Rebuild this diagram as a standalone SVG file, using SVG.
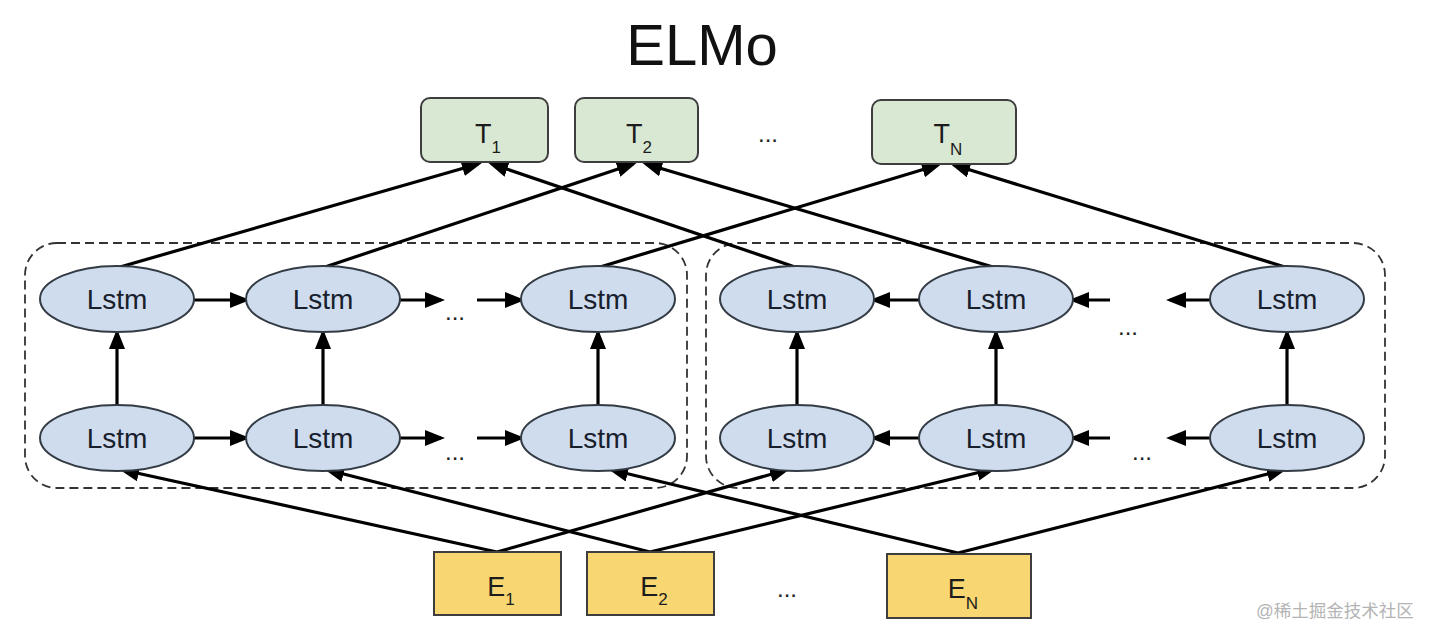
<svg xmlns="http://www.w3.org/2000/svg" width="1434" height="642" viewBox="0 0 1434 642">
  <defs>
    <marker id="arr" markerUnits="userSpaceOnUse" markerWidth="22" markerHeight="18" refX="16" refY="8" orient="auto">
      <path d="M0,0 L20,8 L0,16 z" fill="#000"/>
    </marker>
    <style>
      .title { font-family: "Liberation Sans", Arial, sans-serif; font-size: 58px; fill: #111; text-anchor: middle; }
      .tbox { fill: #d9e8d3; stroke: #3e3e3e; stroke-width: 2; }
      .ebox { fill: #f8d672; stroke: #3e3e3e; stroke-width: 2; }
      .lstm { fill: #cfdcee; stroke: #333b44; stroke-width: 2; }
      .group { fill: none; stroke: #333; stroke-width: 1.8; stroke-dasharray: 9 5; }
      .lt { font-family: "Liberation Sans", Arial, sans-serif; font-size: 28px; fill: #18202c; text-anchor: middle; }
      .lbl { font-family: "Liberation Sans", Arial, sans-serif; font-size: 27px; fill: #1c1c1c; text-anchor: middle; }
      .sub { font-size: 17px; }
      .dots { font-family: "Liberation Sans", Arial, sans-serif; font-size: 24px; fill: #222; text-anchor: middle; }
      .conn line { stroke: #000; stroke-width: 3.2; marker-end: url(#arr); }
      .wm { font-family: "Liberation Sans", "Noto Sans CJK SC", sans-serif; font-size: 17.5px; fill: #b4b4b4; }
    </style>
  </defs>
  <rect width="1434" height="642" fill="#fff"/>

  <text class="title" x="702" y="65">ELMo</text>

  <g id="groups">
    <rect class="group" x="25" y="243" width="662" height="245" rx="32"/>
    <rect class="group" x="706" y="243" width="679" height="245" rx="32"/>
  </g>

  <g id="connectors" class="conn">
    <line x1="120" y1="267" x2="478" y2="164"/>
    <line x1="325" y1="267" x2="633" y2="164"/>
    <line x1="600" y1="267" x2="938" y2="165"/>
    <line x1="795" y1="267" x2="492" y2="164"/>
    <line x1="993" y1="267" x2="646" y2="164"/>
    <line x1="1285" y1="267" x2="954" y2="165"/>
    <line x1="194" y1="300" x2="246" y2="300"/>
    <line x1="400" y1="300" x2="441" y2="300"/>
    <line x1="477" y1="300" x2="521" y2="300"/>
    <line x1="194" y1="438" x2="246" y2="438"/>
    <line x1="400" y1="438" x2="441" y2="438"/>
    <line x1="477" y1="438" x2="521" y2="438"/>
    <line x1="919" y1="300" x2="874" y2="300"/>
    <line x1="1110" y1="300" x2="1073" y2="300"/>
    <line x1="1210" y1="300" x2="1170" y2="300"/>
    <line x1="919" y1="438" x2="874" y2="438"/>
    <line x1="1110" y1="438" x2="1073" y2="438"/>
    <line x1="1210" y1="438" x2="1170" y2="438"/>
    <line x1="117" y1="405" x2="117" y2="333"/>
    <line x1="323" y1="405" x2="323" y2="333"/>
    <line x1="598" y1="405" x2="598" y2="333"/>
    <line x1="797" y1="405" x2="797" y2="333"/>
    <line x1="996" y1="405" x2="996" y2="333"/>
    <line x1="1287" y1="405" x2="1287" y2="333"/>
    <line x1="497" y1="552" x2="123" y2="470"/>
    <line x1="497" y1="552" x2="786" y2="470"/>
    <line x1="650" y1="552" x2="328" y2="470"/>
    <line x1="650" y1="552" x2="993" y2="469"/>
    <line x1="958" y1="553" x2="612" y2="470"/>
    <line x1="958" y1="553" x2="1283" y2="470"/>
  </g>

  <g id="T1"><rect class="tbox" x="421" y="98" width="127" height="64" rx="9"/><text class="lbl" x="488" y="143">T<tspan class="sub" dy="10">1</tspan></text></g>
  <g id="T2"><rect class="tbox" x="575" y="98" width="123" height="64" rx="9"/><text class="lbl" x="639" y="143">T<tspan class="sub" dy="10">2</tspan></text></g>
  <text class="dots" x="768" y="142">...</text>
  <g id="TN"><rect class="tbox" x="872" y="100" width="144" height="64" rx="9"/><text class="lbl" x="948" y="143">T<tspan class="sub" dy="12">N</tspan></text></g>

  <g id="L1a"><ellipse class="lstm" cx="117" cy="299" rx="77" ry="33"/><text class="lt" x="117" y="309">Lstm</text></g>
  <g id="L2a"><ellipse class="lstm" cx="323" cy="299" rx="77" ry="33"/><text class="lt" x="323" y="309">Lstm</text></g>
  <g id="L3a"><ellipse class="lstm" cx="598" cy="299" rx="77" ry="33"/><text class="lt" x="598" y="309">Lstm</text></g>
  <g id="L1b"><ellipse class="lstm" cx="117" cy="438" rx="77" ry="33"/><text class="lt" x="117" y="448">Lstm</text></g>
  <g id="L2b"><ellipse class="lstm" cx="323" cy="438" rx="77" ry="33"/><text class="lt" x="323" y="448">Lstm</text></g>
  <g id="L3b"><ellipse class="lstm" cx="598" cy="438" rx="77" ry="33"/><text class="lt" x="598" y="448">Lstm</text></g>
  <g id="R1a"><ellipse class="lstm" cx="797" cy="299" rx="77" ry="33"/><text class="lt" x="797" y="309">Lstm</text></g>
  <g id="R2a"><ellipse class="lstm" cx="996" cy="299" rx="77" ry="33"/><text class="lt" x="996" y="309">Lstm</text></g>
  <g id="R3a"><ellipse class="lstm" cx="1287" cy="299" rx="77" ry="33"/><text class="lt" x="1287" y="309">Lstm</text></g>
  <g id="R1b"><ellipse class="lstm" cx="797" cy="438" rx="77" ry="33"/><text class="lt" x="797" y="448">Lstm</text></g>
  <g id="R2b"><ellipse class="lstm" cx="996" cy="438" rx="77" ry="33"/><text class="lt" x="996" y="448">Lstm</text></g>
  <g id="R3b"><ellipse class="lstm" cx="1287" cy="438" rx="77" ry="33"/><text class="lt" x="1287" y="448">Lstm</text></g>

  <text class="dots" x="455" y="320">...</text>
  <text class="dots" x="455" y="460">...</text>
  <text class="dots" x="1128" y="335">...</text>
  <text class="dots" x="1142" y="460">...</text>

  <g id="E1"><rect class="ebox" x="434" y="552" width="127" height="63"/><text class="lbl" x="501" y="596">E<tspan class="sub" dy="9">1</tspan></text></g>
  <g id="E2"><rect class="ebox" x="587" y="552" width="127" height="63"/><text class="lbl" x="654" y="596">E<tspan class="sub" dy="9">2</tspan></text></g>
  <text class="dots" x="787" y="597">...</text>
  <g id="EN"><rect class="ebox" x="887" y="554" width="144" height="64"/><text class="lbl" x="963" y="598">E<tspan class="sub" dy="11">N</tspan></text></g>

  <text class="wm" x="1256" y="617">@稀土掘金技术社区</text>
</svg>
